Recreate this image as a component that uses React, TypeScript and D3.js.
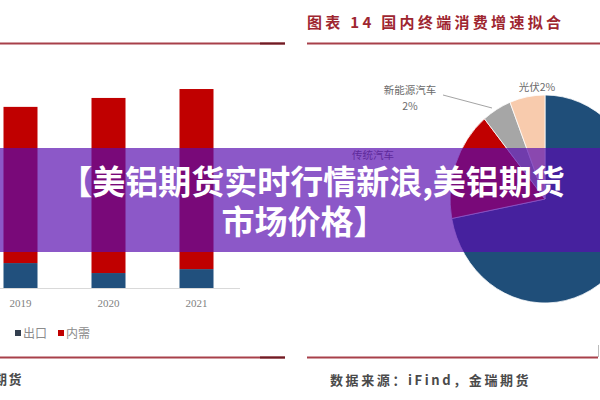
import * as React from 'react';
import * as d3 from 'd3';

const years = ['2019', '2020', '2021'];
const exportVol = [475, 285, 360];
const domesticVol = [2975, 3335, 3430];
const barSeries = ['出口', '内需'];
const barColors = ['#21507d', '#c00000'];

const pieNames = ['其他', '传统汽车', '新能源汽车', '光伏'];
const pieValues = [72, 17, 5, 6];
const pieColors = ['#1f4e79', '#c00000', '#a6a6a6', '#f8cbad'];

const rightTitle = '图表 14 国内终端消费增速拟合';
const sourceText = '数据来源：iFind，金瑞期货';
const bannerLines = ['【美铝期货实时行情新浪,美铝期货', '市场价格】'];

const W = 600;
const H = 400;
const cjk = '"Noto Sans CJK SC", sans-serif';
const serif = '"Liberation Serif", "DejaVu Serif", serif';

export default function App() {
  const ref = React.useRef<SVGSVGElement>(null);

  React.useEffect(() => {
    const svg = d3.select(ref.current);
    svg.selectAll('*').remove();

    svg.append('rect').attr('width', W).attr('height', H).attr('fill', '#fff');

    // panel rules
    const rules = [
      { x1: 0, x2: 285, y: 43.5 },
      { x1: 307, x2: 600, y: 43.5 },
      { x1: 0, x2: 285, y: 357.5 },
      { x1: 307, x2: 598, y: 357.5 },
    ];
    svg
      .selectAll('line.rule')
      .data(rules)
      .enter()
      .append('line')
      .attr('class', 'rule')
      .attr('x1', d => d.x1)
      .attr('x2', d => d.x2)
      .attr('y1', d => d.y)
      .attr('y2', d => d.y)
      .attr('stroke', '#a8404a')
      .attr('stroke-width', 2);
    svg
      .selectAll('line.ruleEnd')
      .data(rules.filter(r => r.x1 === 0))
      .enter()
      .append('line')
      .attr('x1', 260)
      .attr('x2', 285)
      .attr('y1', d => d.y)
      .attr('y2', d => d.y)
      .attr('stroke', '#6e1c24')
      .attr('stroke-width', 2);
    svg
      .append('line')
      .attr('x1', 598.5)
      .attr('x2', 598.5)
      .attr('y1', 345)
      .attr('y2', 357)
      .attr('stroke', '#bbb');

    // ---- left: stacked bars ----
    const x = d3.scalePoint<string>().domain(years).range([20.5, 196.5]);
    const y = d3.scaleLinear().domain([0, 4000]).range([288, 78]);
    const barW = 34;

    svg
      .append('line')
      .attr('x1', 0)
      .attr('x2', 240)
      .attr('y1', 288.5)
      .attr('y2', 288.5)
      .attr('stroke', '#d9d9d9');

    const stackData = years.map((yr, i) => ({ year: yr, e: exportVol[i], d: domesticVol[i] }));
    const stack = d3.stack<any>().keys(['e', 'd'])(stackData);

    svg
      .append('g')
      .selectAll('g')
      .data(stack)
      .enter()
      .append('g')
      .attr('fill', (_, i) => barColors[i])
      .selectAll('rect')
      .data(s => s)
      .enter()
      .append('rect')
      .attr('x', (d: any) => (x(d.data.year) as number) - barW / 2)
      .attr('width', barW)
      .attr('y', d => y(d[1]))
      .attr('height', d => y(d[0]) - y(d[1]));

    svg
      .append('g')
      .selectAll('text')
      .data(years)
      .enter()
      .append('text')
      .attr('x', d => x(d) as number)
      .attr('y', 307)
      .attr('text-anchor', 'middle')
      .attr('font-family', serif)
      .attr('font-size', 11)
      .attr('fill', '#7f7f7f')
      .text(d => d);

    const legend = svg
      .append('g')
      .selectAll('g')
      .data(barSeries)
      .enter()
      .append('g')
      .attr('transform', (_, i) => `translate(${15 + i * 43},0)`);
    legend
      .append('rect')
      .attr('y', 330)
      .attr('width', 6)
      .attr('height', 6)
      .attr('fill', (_, i) => (i === 0 ? '#333f4f' : barColors[1]));
    legend
      .append('text')
      .attr('x', 8)
      .attr('y', 338)
      .attr('font-family', cjk)
      .attr('font-size', 12)
      .attr('fill', '#8c8c8c')
      .text(d => d);

    // tail of the left panel's source line, cut by the crop
    svg
      .append('text')
      .attr('x', 23)
      .attr('y', 384)
      .attr('text-anchor', 'end')
      .attr('font-family', cjk)
      .attr('font-weight', 700)
      .attr('font-size', 13)
      .attr('letter-spacing', 1.5)
      .attr('fill', '#4a4a4a')
      .text(sourceText);

    // ---- right: pie ----
    svg
      .append('text')
      .attr('x', 307)
      .attr('y', 28)
      .attr('font-family', cjk)
      .attr('font-weight', 700)
      .attr('font-size', 15)
      .attr('letter-spacing', 3.3)
      .attr('fill', '#9e2630')
      .text(rightTitle);

    svg
      .append('text')
      .attr('x', 330)
      .attr('y', 385)
      .attr('font-family', cjk)
      .attr('font-weight', 700)
      .attr('font-size', 13)
      .attr('letter-spacing', 2.6)
      .attr('fill', '#4a4a4a')
      .text(sourceText);

    const pie = d3
      .pie<number>()
      .sort(null)
      .value(d => d);
    const arc = d3.arc<d3.PieArcDatum<number>>().innerRadius(0).outerRadius(104);

    svg
      .append('g')
      .attr('transform', 'translate(545,199) scale(0.913,1)')
      .selectAll('path')
      .data(pie(pieValues))
      .enter()
      .append('path')
      .attr('d', arc)
      .attr('fill', (_, i) => pieColors[i])
      .attr('stroke', '#fff')
      .attr('stroke-width', 0.8);

    const labels = [
      { lines: ['新能源汽车', '2%'], x: 410, y: 94 },
      { lines: ['光伏2%'], x: 537, y: 91 },
      { lines: [pieNames[1]], x: 373, y: 159 },
    ];
    svg
      .append('line')
      .attr('x1', 443)
      .attr('y1', 95)
      .attr('x2', 492)
      .attr('y2', 108)
      .attr('stroke', '#8c8c8c')
      .attr('stroke-width', 0.8);
    const lab = svg
      .append('g')
      .selectAll('text')
      .data(labels)
      .enter()
      .append('text')
      .attr('x', d => d.x)
      .attr('y', d => d.y)
      .attr('text-anchor', 'middle')
      .attr('font-family', cjk)
      .attr('font-size', 10.5)
      .attr('fill', '#6b6b6b');
    lab
      .selectAll('tspan')
      .data(d => d.lines.map(t => ({ t, x: d.x })))
      .enter()
      .append('tspan')
      .attr('x', d => d.x)
      .attr('dy', (_, i) => (i === 0 ? 0 : 16))
      .text(d => d.t);

    // ---- banner overlay ----
    svg
      .append('rect')
      .attr('x', 0)
      .attr('y', 148)
      .attr('width', W)
      .attr('height', 104)
      .attr('fill', 'rgb(88,13,175)')
      .attr('fill-opacity', 0.69);
    svg
      .append('g')
      .selectAll('text')
      .data(bannerLines)
      .enter()
      .append('text')
      .attr('x', (_, i) => (i === 0 ? 312 : 304))
      .attr('y', (_, i) => 194 + i * 40)
      .attr('text-anchor', 'middle')
      .attr('font-family', cjk)
      .attr('font-weight', 700)
      .attr('font-size', 33)
      .attr('fill', '#fff')
      .text(d => d);
  }, []);

  return (
    <svg
      ref={ref}
      width={W}
      height={H}
      style={{ position: 'absolute', left: 0, top: 0 }}
    />
  );
}
